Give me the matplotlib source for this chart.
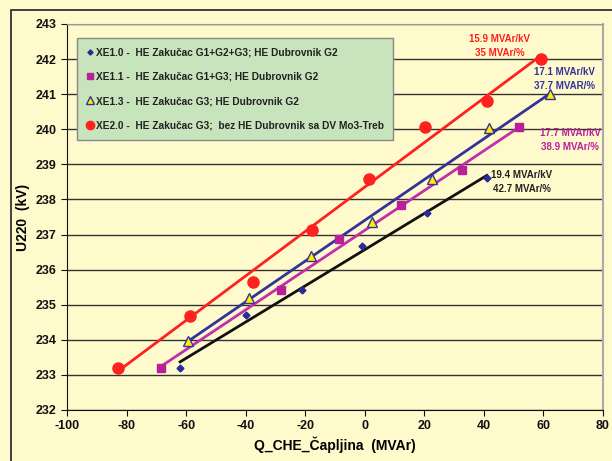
import matplotlib
matplotlib.use("Agg")
import matplotlib.pyplot as plt
import numpy as np
from matplotlib.patches import Rectangle

plt.rcParams['font.family'] = ['Liberation Sans', 'DejaVu Sans']
plt.rcParams['font.weight'] = 'bold'
plt.rcParams['axes.unicode_minus'] = False

# XE1.0 (diamonds)
q_xe10 = [-62, -40, -21, -1, 21, 41]
u_xe10 = [233.2, 234.7, 235.42, 236.68, 237.62, 238.6]
# XE1.1 (squares)
q_xe11 = [-68.5, -28, -8.5, 12, 32.6, 51.8]
u_xe11 = [233.2, 235.43, 236.87, 237.85, 238.83, 240.06]
# XE1.3 (triangles)
q_xe13 = [-59.5, -39, -18, 2.5, 22.6, 41.8, 62.2]
u_xe13 = [233.97, 235.2, 236.4, 237.37, 238.58, 240.05, 241.0]
# XE2.0 (circles)
q_xe20 = [-83, -58.7, -37.5, -17.8, 1.5, 20.2, 41, 59.2]
u_xe20 = [233.2, 234.68, 235.64, 237.12, 238.58, 240.06, 240.8, 242.0]

labels = ['XE1.0 -  HE Zakučac G1+G2+G3; HE Dubrovnik G2',
          'XE1.1 -  HE Zakučac G1+G3; HE Dubrovnik G2',
          'XE1.3 -  HE Zakučac G3; HE Dubrovnik G2',
          'XE2.0 -  HE Zakučac G3;  bez HE Dubrovnik sa DV Mo3-Treb']
notes = ['19.4 MVAr/kV\n42.7 MVAr/%',
         '17.7 MVAr/kV\n38.9 MVAr/%',
         '17.1 MVAr/kV\n37.7 MVAR/%',
         '15.9 MVAr/kV\n35 MVAr/%']
note_pos = [(52.8, 238.5), (68.9, 239.7), (67.2, 241.43), (45.2, 242.38)]

bg = '#FFFACC'
fig = plt.figure(figsize=(6.12, 4.61), dpi=100, facecolor=bg)
ax = fig.add_axes([67/612, 1-410/461, 536/612, 386/461], facecolor=bg)

fig.patches.append(Rectangle((11/612, -0.05), 1.1, 1.05 - 10/461, transform=fig.transFigure,
                             fill=False, edgecolor='#222222', linewidth=1.2, zorder=0))

series = [
    (q_xe10, u_xe10, '#111111', '#222222', dict(marker='D', ms=3.5, mfc='#2A2A9A', mec='#2A2A9A')),
    (q_xe11, u_xe11, '#C030A8', '#B8209A', dict(marker='s', ms=6, mfc='#B8209A', mec='#B8209A')),
    (q_xe13, u_xe13, '#333399', '#333399', dict(marker='^', ms=7, mfc='#FFEE00', mec='#333399', mew=1)),
    (q_xe20, u_xe20, '#FF2020', '#FF2020', dict(marker='o', ms=8, mfc='#FF2020', mec='#FF2020')),
]

for (q, u, lc, tc, mk), lab, note, pos in zip(series, labels, notes, note_pos):
    k, b = np.polyfit(q, u, 1)
    xs = np.array([min(q), max(q)])
    ax.plot(xs, k * xs + b, color=lc, lw=2, zorder=3)
    ax.plot(q, u, ls='none', label=lab, zorder=4, **mk)
    ax.text(pos[0], pos[1], note, color=tc, fontsize=7, fontweight='bold',
            ha='center', va='center', linespacing=1.5, zorder=5)

ax.set_xlim(-100, 80)
ax.set_ylim(232, 243)
ax.set_xticks(np.arange(-100, 81, 20))
ax.set_yticks(np.arange(232, 244, 1))
ax.yaxis.grid(True, color='#333333', lw=1)
ax.set_axisbelow(True)
ax.tick_params(labelsize=9, length=4, direction='out', colors='#111111')
for t in ax.get_xticklabels() + ax.get_yticklabels():
    t.set_fontweight('bold')
ax.spines['left'].set_color('#111111')
ax.spines['bottom'].set_color('#111111')
ax.spines['top'].set_color('#999999')
ax.spines['right'].set_color('#AAAAAA')
ax.spines['right'].set_linewidth(1.5)

ax.set_xlabel('Q_CHE_Čapljina  (MVAr)', fontsize=10, fontweight='bold', labelpad=3)
ax.set_ylabel('U220  (kV)', fontsize=10, fontweight='bold', labelpad=4)

leg = ax.legend(loc='upper left', bbox_to_anchor=(0.0187, 0.9637), fontsize=7.3,
                handlelength=0.6, handletextpad=0.3, labelspacing=1.4,
                borderpad=0.95, borderaxespad=0, frameon=True, fancybox=False,
                markerscale=0.75)
leg.get_frame().set_facecolor('#C8E4BC')
leg.get_frame().set_edgecolor('#888888')
leg.get_frame().set_alpha(1)
for t in leg.get_texts():
    t.set_fontweight('bold')
    t.set_color('#222222')

fig.savefig('out.png', dpi=100, facecolor=bg)
